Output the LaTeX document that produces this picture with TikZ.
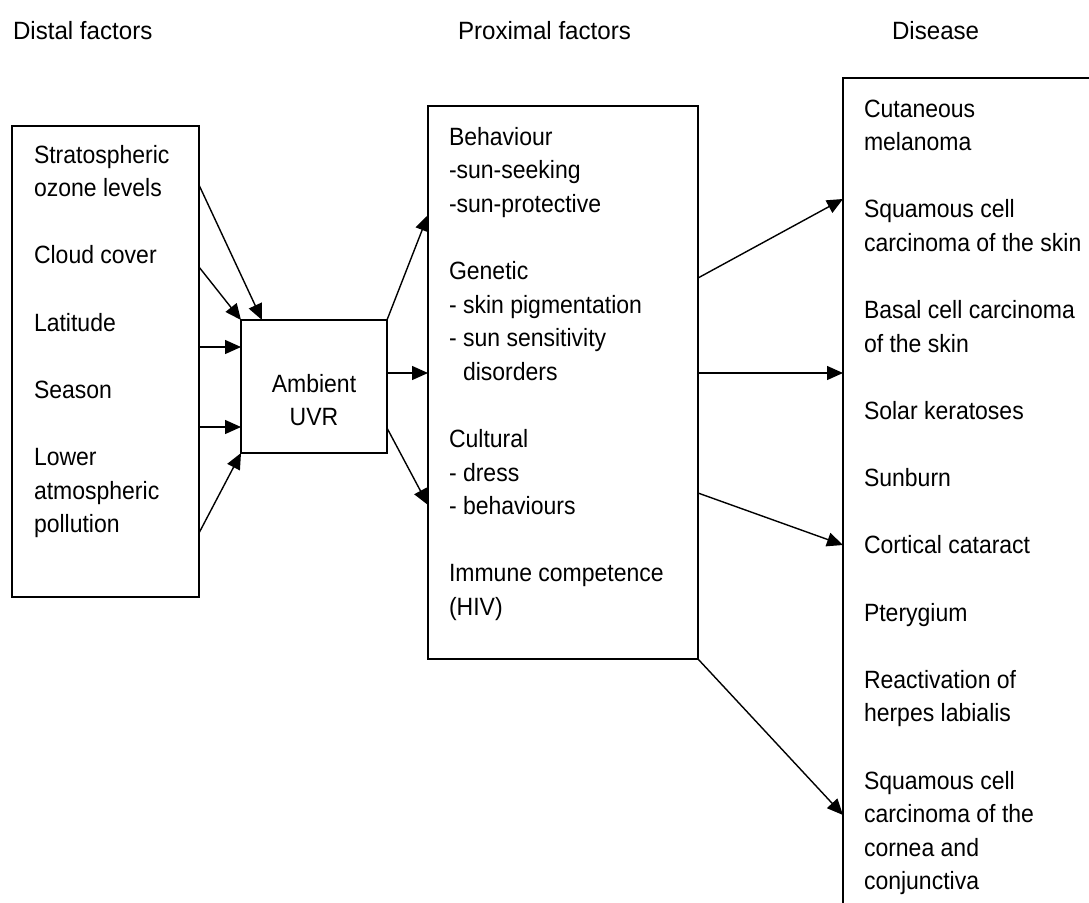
\documentclass[tikz,border=0pt]{standalone}
\usepackage{fontspec}
\setmainfont{Liberation Sans}[FakeStretch=0.92]
\newfontfamily\hdfont{Liberation Sans}[FakeStretch=0.965]
\usetikzlibrary{arrows.meta,calc}
\tikzset{
  box/.style={draw, line width=1.8pt, inner sep=0pt, outer sep=0pt, anchor=north west},
  arr/.style={line width=1.4pt, -{Triangle[length=16pt,width=14pt]}},
  txt/.style={anchor=base west, inner sep=0pt, outer sep=0pt, font=\fontsize{25}{30}\selectfont},
  hdr/.style={anchor=base west, inner sep=0pt, outer sep=0pt, font=\hdfont\fontsize{25}{30}\selectfont},
  ctxt/.style={anchor=base, inner sep=0pt, outer sep=0pt, font=\fontsize{25}{30}\selectfont}
}
\begin{document}
\begin{tikzpicture}[x=1pt,y=-1pt]
\useasboundingbox (0,0) rectangle (1089,902);
\clip (0,0) rectangle (1089,902);
% headers
\node[hdr] (h1) at (13,39) {Distal factors};
\node[hdr] (h2) at (458,39) {Proximal factors};
\node[hdr] (h3) at (892,39) {Disease};
% boxes
\node[box, minimum width=187pt, minimum height=471pt] (dist) at (12,126) {};
\node[box, minimum width=146pt, minimum height=133pt] (uvr) at (241,320) {};
\node[box, minimum width=270pt, minimum height=553pt] (prox) at (428,106) {};
\node[box, minimum width=270pt, minimum height=860pt] (dis) at (843,78) {};
% texts
\foreach \t/\k in {Stratospheric/0, ozone levels/1, Cloud cover/3, Latitude/5, Season/7, Lower/9, atmospheric/10, pollution/11}
  \node[txt] (d\k) at (34,{163+33.6*\k}) {\t};
\node[ctxt] (u1) at (314,392) {Ambient};
\node[ctxt] (u2) at (314,425) {UVR};
\foreach \t/\k in {Behaviour/0, -sun-seeking/1, -sun-protective/2, Genetic/4, - skin pigmentation/5, - sun sensitivity/6, {\hspace{14pt}disorders}/7, Cultural/9, - dress/10, - behaviours/11, Immune competence/13, (HIV)/14}
  \node[txt] (p\k) at (449,{145+33.6*\k}) {\t};
\foreach \t/\k in {Cutaneous/0, melanoma/1, Squamous cell/3, carcinoma of the skin/4, Basal cell carcinoma/6, of the skin/7, Solar keratoses/9, Sunburn/11, Cortical cataract/13, Pterygium/15, Reactivation of/17, herpes labialis/18, Squamous cell/20, carcinoma of the/21, cornea and/22, conjunctiva/23}
  \node[txt] (s\k) at (864,{117+33.6*\k}) {\t};
% arrows distal -> UVR
\draw[arr] ($(dist.north east)+(0,59)$) -- ($(uvr.north west)+(21,0)$);
\draw[arr] ($(dist.north east)+(0,141)$) -- (uvr.north west);
\draw[arr] ($(dist.north east)+(0,221)$) -- ($(uvr.north west)+(0,27)$);
\draw[arr] ($(dist.north east)+(0,301)$) -- ($(uvr.north west)+(0,107)$);
\draw[arr] ($(dist.north east)+(0,407)$) -- (uvr.south west);
% UVR -> proximal
\draw[arr] (uvr.north east) -- ($(prox.north west)+(0,109)$);
\draw[arr] ($(uvr.north east)+(0,53)$) -- ($(prox.north west)+(0,267)$);
\draw[arr] ($(uvr.north east)+(0,108)$) -- ($(prox.north west)+(0,399)$);
% proximal -> disease
\draw[arr] ($(prox.north east)+(0,172)$) -- ($(dis.north west)+(0,121)$);
\draw[arr] ($(prox.north east)+(0,267)$) -- ($(dis.north west)+(0,295)$);
\draw[arr] ($(prox.north east)+(0,387)$) -- ($(dis.north west)+(0,467)$);
\draw[arr] (prox.south east) -- ($(dis.north west)+(0,737)$);
\end{tikzpicture}
\end{document}
